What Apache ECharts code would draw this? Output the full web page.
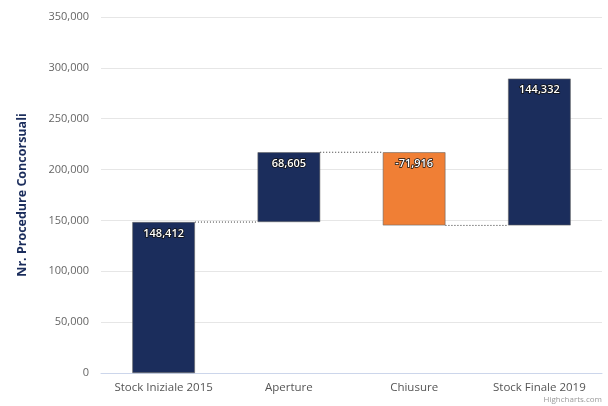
<!DOCTYPE html>
<html>
<head>
<meta charset="utf-8">
<script src="https://cdn.jsdelivr.net/npm/echarts@6/dist/echarts.min.js"></script>
<style>
  html, body { margin: 0; padding: 0; background: #fff; }
  #chart { width: 608px; height: 406px; }
</style>
</head>
<body>
<div id="chart"></div>
<script>
// categorie e valori (waterfall)
const categories = ['Stock Iniziale 2015', 'Aperture', 'Chiusure', 'Stock Finale 2019'];
const values = [148412, 68605, -71916, 144332];
const yTicks = [0, 50000, 100000, 150000, 200000, 250000, 300000, 350000];

const navy = '#1b2d5c';
const orange = '#f07f35';

// base invisibile + altezza visibile
let cum = 0;
const bases = [];
const heights = [];
const ends = [];
values.forEach(function (v) {
  const start = cum;
  const end = cum + v;
  bases.push(Math.min(start, end));
  heights.push(Math.abs(v));
  ends.push(end);
  cum = end;
});

const fmt = function (n) {
  return n.toLocaleString('en-US');
};

const chart = echarts.init(document.getElementById('chart'));

const option = {
  animation: false,
  textStyle: { fontFamily: 'Open Sans' },
  grid: { left: 101, right: 6, top: 17, bottom: 33 },
  xAxis: {
    type: 'category',
    data: categories,
    axisLine: { lineStyle: { color: '#ccd6eb' } },
    axisTick: { show: false },
    axisLabel: { color: '#555', fontSize: 11.5, margin: 9, interval: 0 }
  },
  yAxis: {
    type: 'value',
    min: yTicks[0],
    max: yTicks[yTicks.length - 1],
    interval: 50000,
    name: 'Nr. Procedure Concorsuali',
    nameLocation: 'middle',
    nameGap: 72,
    nameTextStyle: { color: '#1b2d5c', fontWeight: 'bold', fontSize: 12.5 },
    axisLine: { show: false },
    axisTick: { show: false },
    axisLabel: { color: '#666', fontSize: 11, margin: 12, formatter: function (v) { return fmt(v); } },
    splitLine: { lineStyle: { color: '#e6e6e6' } }
  },
  series: [
    {
      type: 'bar',
      stack: 'w',
      barWidth: '50%',
      silent: true,
      itemStyle: { color: 'transparent' },
      data: bases
    },
    {
      type: 'bar',
      stack: 'w',
      barWidth: '50%',
      data: heights.map(function (h, i) {
        return {
          value: h,
          itemStyle: { color: values[i] < 0 ? orange : navy }
        };
      }),
      itemStyle: { borderColor: '#666', borderWidth: 0.6 },
      label: {
        show: true,
        position: 'insideTop',
        distance: 6,
        color: '#fff',
        fontSize: 11,
        fontWeight: 600,
        textBorderColor: '#111',
        textBorderWidth: 1.5,
        formatter: function (p) { return fmt(values[p.dataIndex]); }
      }
    },
    {
      // linee di collegamento tratteggiate
      type: 'custom',
      silent: true,
      z: 5,
      data: ends.slice(0, -1).map(function (e, i) { return [i, e]; }),
      renderItem: function (params, api) {
        const i = api.value(0);
        const lvl = api.value(1);
        const p1 = api.coord([i, lvl]);
        const p2 = api.coord([i + 1, lvl]);
        const half = api.size([1, 0])[0] * 0.25;
        return {
          type: 'line',
          shape: { x1: p1[0] + half, y1: p1[1], x2: p2[0] - half, y2: p2[1] },
          style: { stroke: '#333', lineWidth: 1, lineDash: [1, 2] }
        };
      }
    }
  ],
  graphic: [
    {
      type: 'text',
      right: 6,
      bottom: 2,
      style: { text: 'Highcharts.com', fill: '#999', fontSize: 8, fontFamily: 'Open Sans' }
    }
  ]
};

chart.setOption(option);
</script>
</body>
</html>
